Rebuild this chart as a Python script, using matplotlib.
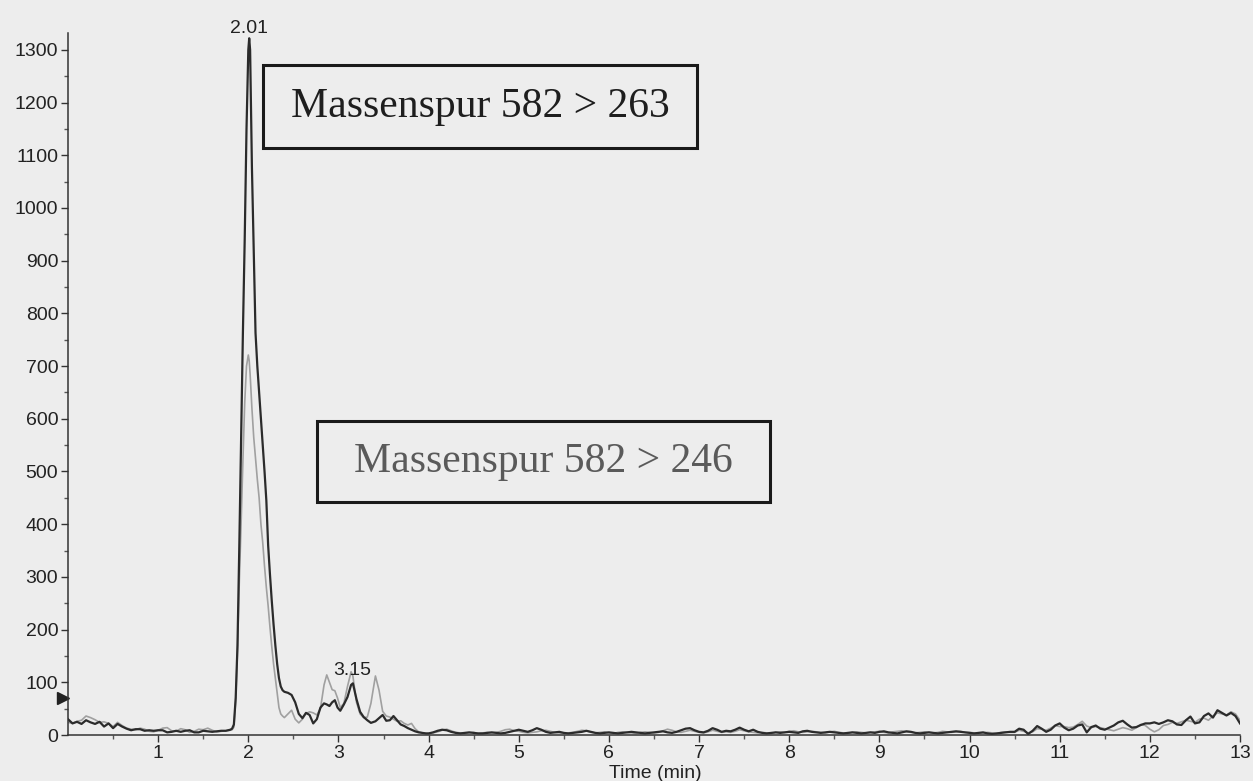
import matplotlib
matplotlib.use("Agg")
import matplotlib.pyplot as plt
import matplotlib.patches as pt
import numpy as np

# retention time (min), split into pieces with different sampling
time_base = np.linspace(0.0, 1.80, 37)
time_peak = [1.82, 1.84, 1.86, 1.88, 1.90, 1.92, 1.94, 1.96, 1.98, 2.00,
             2.01, 2.02, 2.04, 2.06, 2.08, 2.10, 2.12, 2.14, 2.16, 2.18,
             2.20, 2.22, 2.24, 2.26, 2.28, 2.30, 2.32, 2.34, 2.36, 2.38]
time_tail = [2.40, 2.44, 2.48, 2.52, 2.56, 2.60, 2.64, 2.68, 2.72, 2.76,
             2.80, 2.84, 2.87, 2.90, 2.93, 2.96, 2.99, 3.02, 3.06, 3.10,
             3.14, 3.16, 3.20, 3.24, 3.28, 3.32, 3.36, 3.41, 3.45, 3.49,
             3.53, 3.57, 3.61, 3.65, 3.69, 3.73, 3.77, 3.81, 3.85, 3.89,
             3.93, 3.97]
time_flat = np.linspace(4.0, 10.45, 130)
time_end = np.linspace(10.5, 13.0, 51)

# trace 582 > 263 (black)
black_base = [30, 22, 25, 21, 28, 24, 21, 25, 16, 22, 13, 21, 16, 12, 9, 11, 11, 8, 9, 8,
              9, 9, 5, 6, 8, 6, 8, 9, 5, 5, 8, 7, 6, 7, 8, 8, 10]
black_peak = [12, 20, 70, 170, 357, 560, 763, 940, 1150, 1300,
              1322, 1300, 1078, 920, 763, 700, 650, 600, 550, 500,
              445, 360, 305, 255, 210, 170, 135, 108, 92, 85]
black_tail = [82, 80, 76, 62, 40, 32, 42, 38, 22, 30,
              52, 60, 58, 55, 62, 66, 52, 46, 58, 72,
              95, 98, 68, 44, 34, 28, 23, 26, 32, 38,
              27, 28, 36, 28, 20, 17, 13, 10, 7, 5,
              4, 3]
black_flat = [3, 5, 8, 10, 9, 6, 4, 3, 4, 5, 4, 3, 3, 4, 5, 4, 3, 4, 6, 8,
              10, 8, 6, 9, 13, 10, 6, 4, 5, 6, 4, 3, 4, 5, 6, 8, 6, 4, 3, 4,
              5, 4, 3, 4, 5, 6, 5, 4, 3, 4, 5, 6, 7, 5, 4, 6, 9, 12, 13, 9,
              6, 5, 8, 13, 10, 6, 8, 7, 10, 14, 10, 7, 10, 6, 4, 3, 4, 5, 4, 5,
              6, 5, 4, 7, 8, 6, 5, 4, 5, 6, 5, 4, 3, 4, 5, 4, 3, 4, 5, 4,
              6, 7, 5, 4, 3, 5, 7, 6, 4, 3, 4, 5, 4, 3, 4, 5, 6, 7, 6, 5,
              4, 3, 4, 5, 3, 2, 3, 4, 5, 6]
black_end = [6, 12, 10, 2, 8, 17, 12, 6, 10, 18, 22, 14, 9, 12, 18, 20, 5, 15, 18, 12,
             10, 14, 18, 24, 27, 20, 14, 15, 19, 22, 22, 24, 21, 24, 28, 26, 20, 19, 28, 35,
             22, 24, 36, 41, 33, 47, 42, 37, 42, 36, 22]

# trace 582 > 246 (grey)
grey_base = [24, 22, 26, 28, 36, 33, 29, 24, 25, 22, 16, 24, 18, 13, 11, 10, 13, 11, 7, 6,
             9, 13, 14, 8, 7, 12, 10, 5, 7, 11, 10, 13, 9, 6, 7, 8, 9]
grey_peak = [10, 15, 65, 160, 290, 400, 520, 630, 700, 721,
             710, 685, 620, 565, 525, 485, 450, 400, 365, 320,
             280, 245, 205, 168, 135, 108, 80, 52, 40, 36]
grey_tail = [33, 40, 47, 30, 23, 30, 41, 44, 42, 38,
             50, 95, 114, 100, 86, 84, 70, 52, 60, 92,
             120, 112, 62, 40, 33, 34, 60, 112, 85, 45,
             36, 34, 30, 26, 27, 22, 19, 22, 12, 6,
             4, 3]
grey_flat = [3, 4, 6, 9, 11, 8, 5, 4, 3, 4, 5, 3, 4, 5, 4, 5, 7, 10, 11, 8,
             7, 5, 4, 5, 6, 8, 9, 7, 5, 4, 3, 4, 5, 7, 9, 8, 5, 4, 5, 6,
             4, 3, 5, 6, 5, 4, 3, 5, 6, 5, 4, 5, 8, 11, 9, 6, 5, 7, 9, 7,
             5, 4, 6, 9, 7, 5, 6, 5, 7, 10, 8, 6, 5, 4, 5, 4, 3, 5, 6, 5,
             7, 8, 6, 5, 6, 7, 6, 5, 4, 6, 7, 5, 4, 3, 5, 6, 5, 4, 5, 6,
             7, 5, 4, 6, 7, 8, 6, 5, 4, 5, 6, 5, 4, 5, 7, 6, 5, 6, 7, 5,
             5, 4, 3, 4, 5, 4, 3, 5, 6, 5]
grey_end = [5, 9, 7, 4, 6, 12, 11, 9, 13, 18, 16, 16, 14, 15, 20, 26, 17, 14, 16, 14,
            12, 10, 8, 11, 14, 12, 9, 14, 20, 18, 11, 6, 10, 18, 20, 24, 22, 25, 28, 26,
            24, 30, 32, 28, 36, 42, 40, 38, 44, 40, 28]

peak_labels = [(2.01, 1322, "2.01"), (3.15, 104, "3.15")]

time = np.concatenate([time_base, time_peak, time_tail, time_flat, time_end])
black = np.concatenate([black_base, black_peak, black_tail, black_flat, black_end])
grey = np.concatenate([grey_base, grey_peak, grey_tail, grey_flat, grey_end])

W, H = 1253, 781
bg = "#ededed"
fig = plt.figure(figsize=(W / 100, H / 100), dpi=100, facecolor=bg)
ax = fig.add_axes([68 / W, 1 - 735 / H, (1240 - 68) / W, (735 - 33) / H])
ax.set_facecolor(bg)

ax.plot(time, grey, color="#a0a0a0", lw=1.2)
ax.plot(time, black, color="#2b2b2b", lw=1.6)

for x, y, s in peak_labels:
    ax.annotate(s, (x, y), xytext=(0, 1), textcoords="offset points",
                ha="center", va="bottom", fontsize=14, family="Liberation Sans", color="#222222")

# injection marker on the y axis
ax.plot(-0.05, 70, marker=">", ms=9, color="#222222", clip_on=False)

ax.set_xlim(0, 13)
ax.set_ylim(0, 1332)
ax.set_xticks(range(1, 14))
ax.set_xticks(np.arange(0.5, 13, 1.0), minor=True)
ax.set_yticks(range(0, 1301, 100))
ax.set_yticks(range(50, 1301, 100), minor=True)
for s in ["top", "right"]:
    ax.spines[s].set_visible(False)
for s in ["left", "bottom"]:
    ax.spines[s].set_color("#333333")
    ax.spines[s].set_linewidth(1.1)
ax.tick_params(which="major", length=5, width=1, color="#333333", pad=2,
               labelsize=14, labelcolor="#222222")
ax.tick_params(which="minor", length=3, width=1, color="#555555")
for lab in ax.get_xticklabels() + ax.get_yticklabels():
    lab.set_family("Liberation Sans")

fig.text(655 / W, 1 - 773 / H, "Time (min)", ha="center", va="center",
         fontsize=14, family="Liberation Sans", color="#222222")

# the two boxed trace names
boxes = [(263, 65, 697, 148, "Massenspur 582 > 263", "#1e1e1e"),
         (317, 421, 770, 502, "Massenspur 582 > 246", "#5a5a5a")]
for x0, y0, x1, y1, txt, col in boxes:
    fig.add_artist(pt.Rectangle((x0 / W, 1 - y1 / H), (x1 - x0) / W, (y1 - y0) / H,
                                transform=fig.transFigure, fill=False,
                                edgecolor="#1a1a1a", lw=2.2))
    fig.text((x0 + x1) / 2 / W, 1 - (y0 + y1) / 2 / H, txt, ha="center", va="center",
             fontsize=30, family="Liberation Serif", color=col)

fig.savefig("out.png", dpi=100, facecolor=bg)
